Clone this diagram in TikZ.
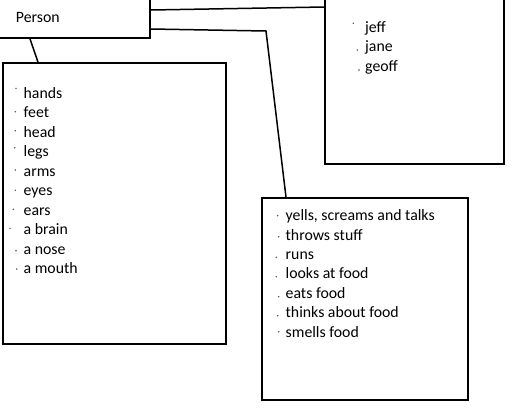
\documentclass[tikz,border=0pt]{standalone}
\usepackage{fontspec}
\setmainfont{Carlito}
\usetikzlibrary{positioning}

\begin{document}
\begin{tikzpicture}[
    x=1pt, y=-1pt,
    box/.style={rectangle, draw, line width=1.8pt, inner sep=0pt},
    item/.style={anchor=base west, inner sep=0pt, font=\fontsize{15.8}{19.5}\selectfont},
    link/.style={line width=1.5pt},
    dot/.style={fill=black!70},
]

%Background
\useasboundingbox[fill=white] (0, 0) rectangle (530, 416);

% Boxes
\node[box, minimum width=160pt, minimum height=42pt, anchor=center,
      font=\fontsize{15.8}{19.5}\selectfont, text width=108pt, align=left, inner xsep=26pt] (person) at (70, 17) {Person};
\node[box, minimum width=179pt, minimum height=174pt] (names) at (414.5, 77) {};
\node[box, minimum width=223pt, minimum height=281pt] (parts) at (114.5, 203.5) {};
\node[box, minimum width=206pt, minimum height=202pt] (actions) at (365, 299) {};

% Names
\foreach \t [count=\i] in {jeff, jane, geoff}
    \node[item] (name\i) at (365, 32.5+19.4*\i-19.4) {\t};

% Body parts
\foreach \t [count=\i] in {hands, feet, head, legs, arms, eyes, ears, a brain, a nose, a mouth}
    \node[item] (part\i) at (23.5, 98+19.55*\i-19.55) {\t};

% Actions
\foreach \t [count=\i] in {{yells, screams and talks}, throws stuff, runs, looks at food, eats food, thinks about food, smells food}
    \node[item] (act\i) at (285.5, 220.7+19.4*\i-19.4) {\t};

% Bullets
\foreach \p in {(16,88.3), (15.3,111.7), (15.3,130.7), (14.7,147.7), (15.3,170), (15.3,190.3), (13.3,209.3), (10,228.3), (16,250.7), (16.7,269),
                (353.3,23.3), (357.3,50), (359,70),
                (277.7,215.7), (278.7,236.7), (276.3,257.3), (276.3,276.7), (278.7,296.7), (277.7,315.7), (278.7,331.7)}
    \fill[dot] \p circle (0.8);

% Connectors
\coordinate (bend) at (266, 31);
\draw[link] (person.east |- 0,10) -- (names.west |- 0,7);
\draw[link] (person.east |- 0,29) -- (bend) -- (actions.north -| 286,0);
\draw[link] (person.south -| 30,0) -- (parts.north -| 38,0);

\end{tikzpicture}
\end{document}
